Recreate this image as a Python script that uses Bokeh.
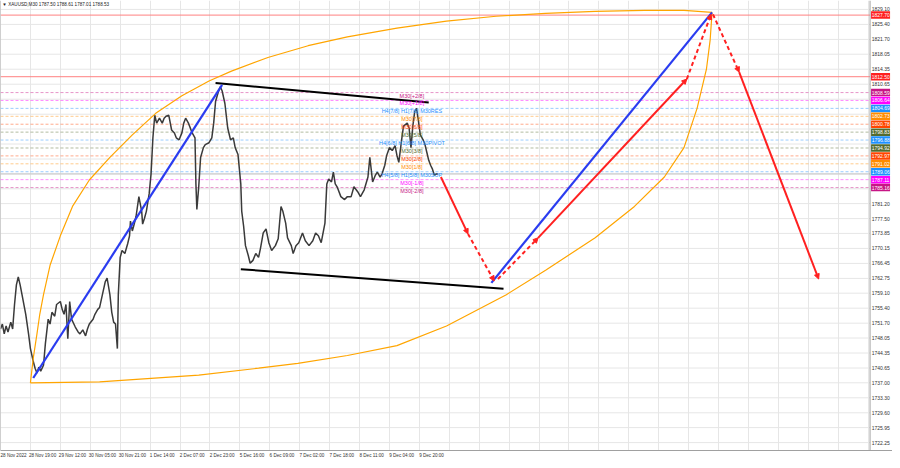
from bokeh.plotting import figure
from bokeh.models import (Range1d, FixedTicker, ColumnDataSource, Label, Arrow, NormalHead,
                          Span)
from bokeh.core.properties import value
from bokeh.embed import file_html
from bokeh.resources import INLINE

FONT = "Liberation Sans"

# ---------------- price path (M30 bar index, price) ----------------
bar_idx = [0, 2, 4, 6, 8, 11, 13, 15, 17, 19, 21, 23, 27, 30, 32, 35, 37, 39, 41, 43, 46, 48,
           51, 53, 55, 58, 60, 64, 66, 68, 70, 72, 74, 76, 80, 83, 85, 88, 91, 93, 95, 99,
           101, 104, 106, 109, 112, 114, 117, 119, 121, 123, 125, 126, 128, 130, 133, 136,
           138, 139, 141, 143, 145, 148, 151, 152, 154, 156, 159, 161, 163, 165, 167, 170,
           173, 175, 177, 180, 183, 186, 188, 191, 194, 196, 198, 201, 205, 208, 209, 210,
           212, 214, 217, 219, 223, 226, 228, 230, 233, 235, 237, 240, 243, 246, 249, 251,
           254, 257, 258, 260, 262, 265, 267, 270, 273, 276, 278, 281, 284, 287, 290, 294,
           297, 300, 302, 305, 307, 311, 313, 316, 319, 323, 326, 330, 334, 337, 340, 343,
           347, 349, 351, 354, 356, 358, 360, 364, 368, 371, 375, 378, 382, 385, 389, 393,
           395, 398, 401, 403, 406, 408, 411, 413, 416, 419, 422, 424, 426, 429, 431, 435,
           437, 439, 441, 443, 445, 447, 449, 452, 454, 456, 458, 460, 462, 464, 466, 468]
price = [1750.28, 1751.49, 1749.07, 1751.00, 1749.55, 1751.97, 1750.28, 1756.32, 1761.16,
         1763.09, 1761.16, 1758.74, 1753.90, 1749.07, 1745.44, 1742.30, 1740.60, 1739.40,
         1740.85, 1739.88, 1741.33, 1746.65, 1752.69, 1751.49, 1754.39, 1753.42, 1756.32,
         1757.05, 1755.11, 1753.90, 1756.32, 1747.86, 1757.05, 1752.69, 1750.76, 1749.55,
         1749.07, 1750.04, 1748.58, 1750.28, 1751.49, 1752.69, 1753.90, 1755.11, 1755.60,
         1758.74, 1761.88, 1762.85, 1758.74, 1754.39, 1751.97, 1751.49, 1745.44, 1758.74,
         1767.93, 1769.62, 1768.90, 1771.31, 1773.25, 1776.87, 1774.46, 1776.15, 1778.08,
         1782.92, 1779.29, 1776.15, 1777.60, 1779.29, 1783.65, 1788.48, 1797.43, 1802.99,
         1801.05, 1802.26, 1801.05, 1802.26, 1802.75, 1802.99, 1799.36, 1798.64, 1797.43,
         1796.94, 1798.64, 1801.05, 1802.26, 1801.05, 1798.64, 1797.43, 1786.06, 1779.78,
         1785.34, 1792.59, 1795.01, 1795.74, 1796.22, 1797.43, 1801.05, 1806.37, 1808.79,
         1810.00, 1809.03, 1805.89, 1799.85, 1796.94, 1797.43, 1795.01, 1793.32, 1786.06,
         1779.29, 1775.67, 1770.83, 1768.41, 1766.48, 1767.20, 1768.90, 1767.93, 1770.10,
         1773.97, 1774.94, 1771.56, 1769.62, 1770.83, 1772.52, 1780.50, 1779.29, 1776.39,
         1772.76, 1770.83, 1768.90, 1770.83, 1771.56, 1773.97, 1772.04, 1770.83, 1772.04,
         1773.97, 1773.25, 1771.56, 1776.39, 1786.06, 1787.27, 1786.55, 1788.96, 1786.06,
         1785.34, 1782.92, 1782.19, 1782.92, 1782.92, 1785.34, 1784.13, 1782.92, 1784.61,
         1787.76, 1792.59, 1786.55, 1788.24, 1788.96, 1787.76, 1788.48, 1790.66, 1793.08,
         1795.01, 1794.28, 1795.49, 1793.08, 1791.38, 1796.94, 1800.33, 1801.05, 1799.85,
         1795.01, 1800.33, 1803.96, 1804.68, 1801.54, 1798.15, 1796.94, 1795.74, 1793.80,
         1791.87, 1790.66, 1789.69, 1788.24, 1788.48, 1788.53]

# ---------------- axes ----------------
date_ticks = [0, 32, 64, 96, 128, 160, 192, 224, 256, 288, 320, 352, 384, 416, 448]
date_labels = ["28 Nov 2022", "28 Nov 19:00", "29 Nov 12:00", "30 Nov 05:00", "30 Nov 21:00",
               "1 Dec 14:00", "2 Dec 07:00", "2 Dec 23:00", "5 Dec 16:00", "6 Dec 09:00",
               "7 Dec 02:00", "7 Dec 18:00", "8 Dec 11:00", "9 Dec 04:00", "9 Dec 20:00"]
grid_bars = [0, 32, 64, 96, 128, 160, 192, 224, 256, 288, 320, 352, 384, 416, 448, 480, 512,
             544, 576, 608, 640, 672, 704, 736, 768, 800, 832, 864, 896, 928]
price_ticks_axis = [1829.10, 1825.40, 1821.70, 1818.05, 1814.35, 1810.65, 1781.20, 1777.50,
                    1773.85, 1770.15, 1766.45, 1762.75, 1759.10, 1755.40, 1751.70, 1748.05,
                    1744.35, 1740.65, 1737.00, 1733.30, 1729.60, 1725.95, 1722.25]
price_ticks_grid = [1829.10, 1825.40, 1821.70, 1818.05, 1814.35, 1810.65, 1806.95, 1803.25,
                    1799.60, 1795.90, 1792.20, 1788.50, 1784.85, 1781.20, 1777.50, 1773.85,
                    1770.15, 1766.45, 1762.75, 1759.10, 1755.40, 1751.70, 1748.05, 1744.35,
                    1740.65, 1737.00, 1733.30, 1729.60, 1725.95, 1722.25]

# ---------------- Murrey levels ----------------
mm_levels = [1808.59, 1806.64, 1804.69, 1802.73, 1800.78, 1798.83, 1796.88, 1794.92,
             1792.97, 1791.02, 1789.06, 1787.11, 1785.16]
mm_colors = ["#c71585", "#ff00ff", "#1e90ff", "#ff8c00", "#ff4500", "#556b2f", "#1e90ff",
             "#556b2f", "#ff4500", "#ff8c00", "#1e90ff", "#ff00ff", "#c71585"]
mm_texts = ["M30[+2/8]", "M30[+1/8]", "H4[7/8] H1[7/8] M30RES", "M30[7/8]", "M30[6/8]",
            "M30[5/8]", "H4[6/8] H1[6/8] M30PIVOT", "M30[3/8]", "M30[2/8]", "M30[1/8]",
            "H4[5/8] H1[5/8] M30SUP", "M30[-1/8]", "M30[-2/8]"]
red_levels = [1827.70, 1812.50]
bid_price = 1788.53
label_bar = 440

# ---------------- drawings ----------------
chan_top_bar = [230, 458]
chan_top_price = [1810.97, 1806.13]
chan_bot_bar = [257, 538]
chan_bot_price = [1765.02, 1760.19]

blue1_bar = [35, 237]
blue1_price = [1738.18, 1810.48]
blue2_bar = [525, 761]
blue2_price = [1761.64, 1828.37]

arc_up_bar = [32, 35, 39, 42, 46, 53, 64, 77, 95, 117, 141, 166, 194, 223, 247, 286, 329,
              371, 424, 477, 530, 583, 636, 689, 731, 761]
arc_up_price = [1736.98, 1743.02, 1749.07, 1753.90, 1758.74, 1765.99, 1773.25, 1780.50,
                1787.03, 1792.59, 1798.15, 1803.47, 1807.82, 1811.45, 1813.87, 1817.25,
                1820.15, 1822.33, 1824.49, 1826.20, 1827.41, 1828.13, 1828.62, 1828.86,
                1828.86, 1828.37]
arc_lo_bar = [32, 106, 212, 276, 318, 371, 424, 477, 541, 583, 636, 678, 710, 731, 745, 755,
              759, 761]
arc_lo_price = [1736.98, 1737.22, 1738.91, 1740.60, 1741.81, 1743.74, 1746.16, 1751.00,
                1758.74, 1764.78, 1772.76, 1780.50, 1787.76, 1795.01, 1804.68, 1814.35,
                1821.60, 1828.37]

solid_x0 = [471, 575, 790]
solid_y0 = [1787.76, 1772.76, 1813.63]
solid_x1 = [500, 734, 875]
solid_y1 = [1773.73, 1811.93, 1762.60]
dash_x0 = [500, 532, 734, 762]
dash_y0 = [1773.73, 1762.60, 1811.93, 1827.89]
dash_x1 = [528, 575, 760, 790]
dash_y1 = [1762.12, 1772.76, 1827.89, 1813.63]

# ---------------- layout constants ----------------
FW, FH = 892, 450
CHART_END = 930          # last bar column of the chart area; the price scale sits right of it
X_END = 954              # includes the price-scale column
Y0, Y1 = 1720.3, 1831.3
PX = X_END / float(FW)   # bars per pixel
SCALE_TEXT_X = CHART_END + 1.6 * PX
BOX_X = CHART_END + 10.5 * PX

p = figure(frame_width=FW, frame_height=FH, x_range=Range1d(0, X_END),
           y_range=Range1d(Y0, Y1), y_axis_location=None,
           output_backend="svg", toolbar_location=None,
           min_border_left=0, min_border_top=0, min_border_right=0, min_border_bottom=0,
           background_fill_color="white", border_fill_color="white")
p.outline_line_color = None
p.ygrid.visible = False

p.xgrid.ticker = FixedTicker(ticks=grid_bars)
p.xgrid.grid_line_color = "#e6e6e6"

# horizontal grid, only over the chart area
p.segment(x0=0, x1=CHART_END, y0=price_ticks_grid, y1=price_ticks_grid,
          line_color="#e6e6e6", line_width=1, level="underlay")

# date axis (MT4 writes each date to the right of its bar -> centre labels half a label on)
LABEL_SHIFT = 13
xa = p.xaxis[0]
xa.ticker = FixedTicker(ticks=[t + LABEL_SHIFT for t in date_ticks])
xa.major_label_overrides = {t + LABEL_SHIFT: l for t, l in zip(date_ticks, date_labels)}
xa.major_tick_out = 0
xa.major_tick_in = 0
xa.minor_tick_line_color = None
xa.major_label_standoff = 2
xa.major_label_text_font = FONT
xa.major_label_text_font_size = "4.6px"
xa.major_label_text_color = "#333333"
xa.axis_line_color = "#a0a0a0"

# borders of the chart area
p.add_layout(Span(location=0, dimension="height", line_color="#a0a0a0", line_width=1))
p.add_layout(Span(location=CHART_END, dimension="height", line_color="#a0a0a0", line_width=1))

# level lines
p.segment(x0=0, x1=CHART_END, y0=red_levels, y1=red_levels, line_color="#ff8080",
          line_width=1)
p.segment(x0=0, x1=CHART_END, y0=mm_levels, y1=mm_levels, line_color=mm_colors,
          line_alpha=0.45, line_width=1, line_dash="3 2")
p.segment(x0=0, x1=CHART_END, y0=[bid_price], y1=[bid_price], line_color="#c8c8c8",
          line_width=1)

# price
p.line(bar_idx, price, line_color="#3a3a3a", line_width=1.5)

# orange arcs
p.line(arc_up_bar, arc_up_price, line_color="#ffa500", line_width=1.2)
p.line(arc_lo_bar, arc_lo_price, line_color="#ffa500", line_width=1.2)

# channel
p.line(chan_top_bar, chan_top_price, line_color="black", line_width=2)
p.line(chan_bot_bar, chan_bot_price, line_color="black", line_width=2)

# blue trend lines
p.line(blue1_bar, blue1_price, line_color="#2a3cf0", line_width=2.2)
p.line(blue2_bar, blue2_price, line_color="#2a3cf0", line_width=2.2)

# red arrows
src_s = ColumnDataSource(dict(x0=solid_x0, y0=solid_y0, x1=solid_x1, y1=solid_y1))
src_d = ColumnDataSource(dict(x0=dash_x0, y0=dash_y0, x1=dash_x1, y1=dash_y1))
p.add_layout(Arrow(end=NormalHead(size=5, fill_color="#ff2020", line_color="#ff2020"),
                   source=src_s, x_start="x0", y_start="y0", x_end="x1", y_end="y1",
                   line_color="#ff2020", line_width=2))
p.add_layout(Arrow(end=NormalHead(size=5, fill_color="#ff2020", line_color="#ff2020"),
                   source=src_d, x_start="x0", y_start="y0", x_end="x1", y_end="y1",
                   line_color="#ff2020", line_width=2, line_dash="4 3"))

# Murrey texts
src_t = ColumnDataSource(dict(x=[label_bar] * len(mm_levels), y=mm_levels, t=mm_texts,
                              c=mm_colors))
p.text(x="x", y="y", text="t", text_color="c", source=src_t, text_align="center",
       text_baseline="top", text_font=value(FONT), text_font_size=value("5.5px"))

# price scale: tick labels
p.text(x=SCALE_TEXT_X, y=price_ticks_axis, text=[f"{v:.2f}" for v in price_ticks_axis],
       text_align="left", text_baseline="middle", text_color="#333333",
       text_font=value(FONT), text_font_size=value("5px"))

# price scale: coloured level boxes
box_levels = red_levels + mm_levels
box_colors = ["#ff2020", "#ff2020"] + mm_colors
p.rect(x=BOX_X, y=box_levels, width=19, height=7.5, width_units="screen",
       height_units="screen", fill_color=box_colors, line_color=None)
p.text(x=SCALE_TEXT_X, y=box_levels, text=[f"{v:.2f}" for v in box_levels],
       text_align="left", text_baseline="middle", text_color="white",
       text_font=value(FONT), text_font_size=value("5px"))

# title
p.add_layout(Label(x=2, y=Y1 - 0.3, text="\u25bc XAUUSD,M30 1787.50 1788.61 1787.01 1788.53",
                   text_font=FONT, text_font_size="4.6px", text_baseline="top",
                   text_color="#222222"))

open("out.html", "w").write(file_html(p, INLINE))
